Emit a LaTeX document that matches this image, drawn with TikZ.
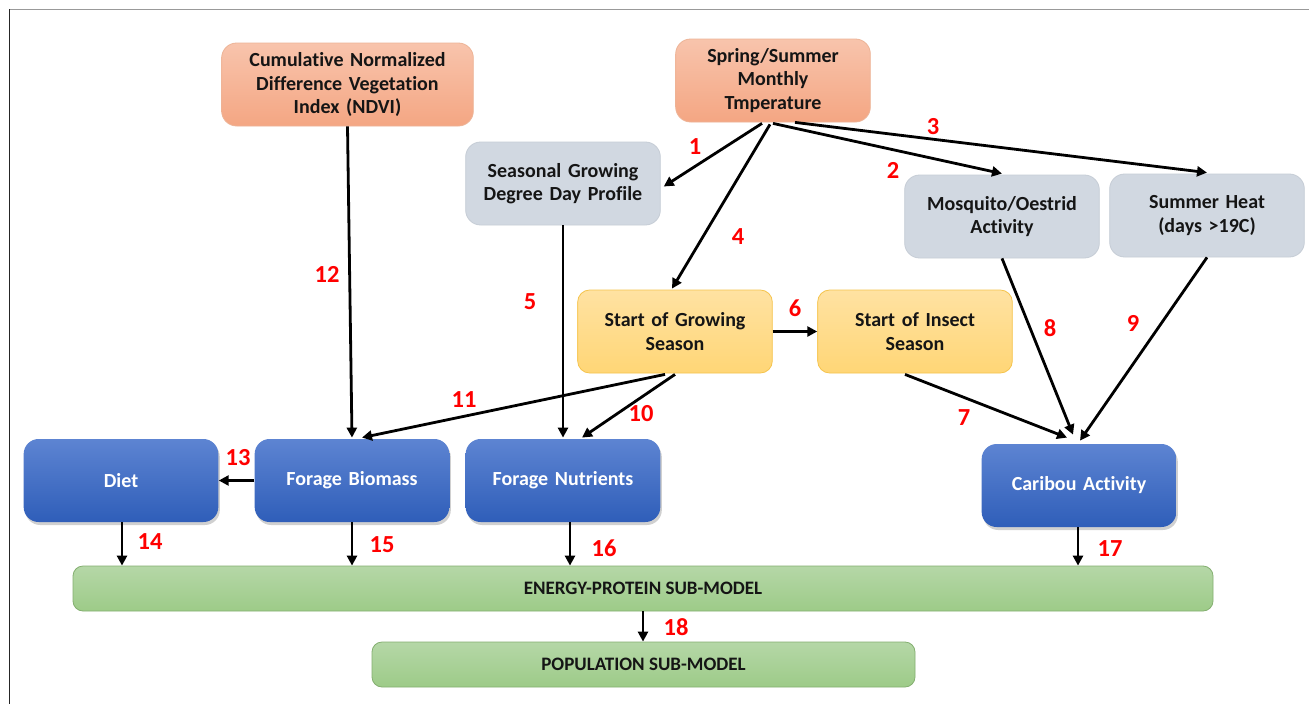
\documentclass[tikz,border=0pt]{standalone}
\usepackage{fontspec}
\setmainfont[Ligatures=NoCommon]{Carlito}
\usetikzlibrary{arrows.meta,shadows,calc}
\definecolor{orTop}{HTML}{F8C4AC}
\definecolor{orBot}{HTML}{F4A683}
\definecolor{orLine}{HTML}{EDB497}
\definecolor{gyFill}{HTML}{D1D8E1}
\definecolor{gyLine}{HTML}{C6CDD6}
\definecolor{ylTop}{HTML}{FFE2A2}
\definecolor{ylBot}{HTML}{FFD676}
\definecolor{ylLine}{HTML}{F5C44E}
\definecolor{blTop}{HTML}{5D84D2}
\definecolor{blBot}{HTML}{2F5EB9}
\definecolor{gnTop}{HTML}{B5D7A7}
\definecolor{gnBot}{HTML}{9DCB88}
\definecolor{gnLine}{HTML}{84AF70}
\definecolor{txt}{HTML}{151515}
\definecolor{numred}{HTML}{FF0000}
\tikzset{
  box/.style={rectangle, rounded corners=15pt, minimum width=194pt, minimum height=83pt,
    align=center, text width=188pt, font=\fontsize{20}{23.5}\selectfont\bfseries, text=txt, line width=0.8pt},
  orbox/.style={box, draw=orLine, top color=orTop, bottom color=orBot},
  gybox/.style={box, draw=gyLine, fill=gyFill},
  ylbox/.style={box, rounded corners=12pt, draw=ylLine, top color=ylTop, bottom color=ylBot},
  blbox/.style={box, draw=none, top color=blTop, bottom color=blBot, text=white,
    drop shadow={shadow xshift=1.5pt, shadow yshift=-3pt, opacity=0.3, fill=black!60}},
  gnbox/.style={rectangle, rounded corners=10pt, minimum height=45pt, draw=gnLine, line width=0.8pt,
    top color=gnTop, bottom color=gnBot, font=\fontsize{19}{22}\selectfont\bfseries, text=txt},
  arr/.style={line width=2.8pt, -{Triangle[length=10pt,width=10pt]}},
  num/.style={font=\fontsize{24.5}{28}\selectfont\bfseries, text=numred},
}
\begin{document}
\begin{tikzpicture}[x=1pt,y=-1pt]
\useasboundingbox (0,0) rectangle (1309,704);
\fill[white] (0,0) rectangle (1309,704);
\draw[gray!80, line width=1pt] (9,9) -- (1309,9);
\draw[black!85, line width=1.6pt] (9.5,9) -- (9.5,704);

% nodes
\node[orbox, minimum width=251pt, text width=245pt] (ndvi) at (347.5,84.5) {Cumulative Normalized\\Difference Vegetation\\Index (NDVI)};
\node[orbox] (temp) at (773,80.5) {Spring/Summer\\Monthly\\Tmperature};
\node[gybox] (gdd) at (563,183.5) {Seasonal Growing\\Degree Day Profile};
\node[gybox] (mosq) at (1002,216.5) {Mosquito/Oestrid\\Activity};
\node[gybox] (heat) at (1207,215.5) {Summer Heat\\(days >19C)};
\node[ylbox] (grow) at (675,331.5) {Start of Growing\\Season};
\node[ylbox] (insect) at (915,331.5) {Start of Insect\\Season};
\node[blbox] (diet) at (121,480.5) {Diet};
\node[blbox] (bio) at (352,480.5) {Forage Biomass};
\node[blbox] (nut) at (563,480.5) {Forage Nutrients};
\node[blbox] (car) at (1079,485.5) {Caribou Activity};
\node[gnbox, minimum width=1140pt] (energy) at (643,588.5) {ENERGY-PROTEIN SUB-MODEL};
\node[gnbox, minimum width=543pt] (pop) at (643.5,664.5) {POPULATION SUB-MODEL};

% connectors
\draw[arr] ($(temp.south)+(-11,1)$) -- ($(gdd.east)+(3,3)$);
\draw[arr] ($(temp.south)+(-3,2)$) -- ($(grow.north)+(-3,-1)$);
\draw[arr] ($(temp.south)+(0,1)$) -- ($(mosq.north)+(0,-1)$);
\draw[arr] ($(temp.south)+(22,0)$) -- ($(heat.north)+(0,-1)$);
\draw[arr] (ndvi.south) -- ($(bio.north)+(0,-1)$);
\draw[arr] (gdd.south) -- ($(nut.north)+(0,-1)$);
\draw[arr] (grow.east) -- (insect.west);
\draw[arr] ($(grow.south)+(-10,1)$) -- ($(bio.north)+(10,-1)$);
\draw[arr] ($(grow.south)+(0,1)$) -- ($(nut.north)+(19,-1)$);
\draw[arr] ($(insect.south)+(-10,1)$) -- ($(car.north)+(-12,-6)$);
\draw[arr] (mosq.south) -- ($(car.north)+(-6,-9)$);
\draw[arr] (heat.south) -- ($(car.north)+(1,-3)$);
\draw[arr] (bio.west) -- (diet.east);
\draw[arr] ($(diet.south)+(1,0)$) -- ($(diet.south |- energy.north)+(1,0)$);
\draw[arr] (bio.south) -- (bio.south |- energy.north);
\draw[arr] ($(nut.south)+(7,0)$) -- ($(nut.south |- energy.north)+(7,0)$);
\draw[arr] ($(car.south)+(-1,0)$) -- ($(car.south |- energy.north)+(-1,0)$);
\draw[arr] (energy.south) -- (energy.south |- pop.north);

% labels
\node[num] (l1) at (695,147) {1};
\node[num] (l2) at (893,170) {2};
\node[num] (l3) at (933,127) {3};
\node[num] (l4) at (738,237) {4};
\node[num] (l5) at (530,302) {5};
\node[num] (l6) at (795,308) {6};
\node[num] (l7) at (964,418) {7};
\node[num] (l8) at (1050,328) {8};
\node[num] (l9) at (1133,323) {9};
\node[num] (l10) at (641,414) {10};
\node[num] (l11) at (464,400) {11};
\node[num] (l12) at (327,274) {12};
\node[num] (l13) at (238,458) {13};
\node[num] (l14) at (150,542) {14};
\node[num] (l15) at (382,545) {15};
\node[num] (l16) at (604,548) {16};
\node[num] (l17) at (1110,549) {17};
\node[num] (l18) at (676,627) {18};
\end{tikzpicture}
\end{document}
